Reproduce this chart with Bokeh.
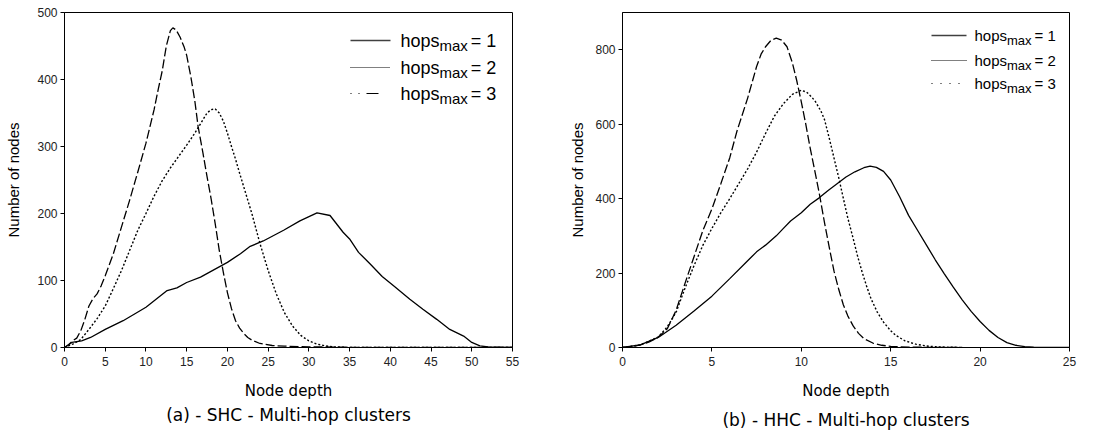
from bokeh.plotting import figure
from bokeh.models import Range1d, Label, Title, FixedTicker
from bokeh.layouts import row
from bokeh.embed import file_html
from bokeh.resources import INLINE

# ---------------- data: (a) SHC ----------------
shc_x_h1 = [0, 0.9, 2.1, 3.2, 5, 7.2, 10, 12.6, 13.8, 15, 16.7, 20, 21.6, 22.8, 24.4, 26.9, 28.9,
            31, 32.6, 34.2, 35, 36.1, 37.5, 39, 40.4, 42.4, 44, 45.7, 47.3, 49, 50, 51, 52, 55]
shc_y_h1 = [0, 7.5, 10, 15, 27, 40, 60, 85, 89, 97, 105, 127, 140, 151, 159, 175, 189,
            201, 197, 172, 162, 142, 125, 106, 92, 72, 57, 42, 27, 17, 7.5, 2.5, 1, 0]

shc_x_h2 = [0, 1, 2, 3, 4, 5, 6, 7, 8, 9, 10, 11, 12, 13, 14, 15, 16, 17, 17.5, 18, 18.5,
            19, 19.5, 20, 20.5, 21, 21.5, 22, 23, 24, 25, 26, 27, 28, 29, 30, 31, 32, 33, 35, 55]
shc_y_h2 = [0, 5, 12, 27, 43, 62, 88, 115, 145, 175, 200, 226, 249, 268, 285, 302, 320, 340,
            350, 355, 356, 350, 338, 320, 300, 281, 260, 240, 200, 155, 115, 80, 52, 32, 18,
            10, 5, 2.5, 1, 0, 0]

shc_x_h3 = [0, 0.5, 1, 1.5, 2, 2.5, 3, 3.5, 4, 4.5, 5, 6, 7, 8, 9, 10, 11, 11.5, 12, 12.5, 13,
            13.3, 13.7, 14.2, 14.7, 15, 15.5, 16, 16.4, 17, 17.5, 18, 18.5, 19, 19.5, 20, 20.5,
            21, 21.5, 22, 22.5, 23, 24, 25.5, 27, 30, 35, 55]
shc_y_h3 = [0, 4, 10, 14, 25, 42, 62, 73, 80, 92, 107, 140, 180, 220, 262, 305, 355, 385, 413,
            450, 473, 477, 474, 463, 448, 436, 405, 368, 330, 290, 255, 222, 185, 145, 112, 82,
            58, 40, 29, 21, 15, 11, 6, 3, 2, 1, 0.3, 0]

# ---------------- data: (b) HHC ----------------
hhc_x_h1 = [0, 1, 2, 3, 4, 5, 6, 7, 7.5, 8, 8.6, 9, 9.4, 10, 10.5, 11, 11.5, 12, 12.5, 13,
            13.5, 13.85, 14.2, 14.6, 15, 15.5, 16, 16.5, 17, 17.5, 18, 18.5, 19, 19.5, 20,
            20.5, 21, 21.5, 22, 22.5, 23, 24, 25]
hhc_y_h1 = [0, 7, 27, 60, 98, 138, 185, 233, 257, 275, 300, 320, 340, 362, 385, 402, 422,
            440, 458, 472, 483, 487, 484, 473, 450, 405, 355, 315, 275, 235, 198, 162, 128,
            97, 70, 46, 27, 13, 6, 2.5, 1, 0.3, 0]

hhc_x_h2 = [0, 1, 2, 2.5, 3, 3.5, 4, 4.5, 5, 5.5, 6, 6.5, 7, 7.5, 8, 8.5, 9, 9.5, 10, 10.3,
            10.6, 10.8, 11.1, 11.3, 11.55, 11.83, 12.1, 12.35, 12.6, 12.9, 13.15, 13.4, 13.65,
            13.9, 14.25, 14.6, 15, 15.3, 15.8, 16.4, 17, 17.7, 19]
hhc_y_h2 = [0, 7, 28, 55, 95, 160, 220, 275, 320, 362, 400, 440, 480, 525, 575, 622, 655,
            680, 691, 686, 672, 660, 635, 612, 565, 509, 455, 401, 348, 293, 245, 203, 165,
            131, 95, 68, 45, 32, 18, 9, 4, 1.5, 0]

hhc_x_h3 = [0, 0.5, 1, 1.5, 2, 2.5, 3, 3.5, 4, 4.5, 5, 5.5, 6, 6.4, 7, 7.5, 7.75, 8, 8.3, 8.6,
            8.9, 9.2, 9.5, 9.75, 10, 10.25, 10.5, 10.8, 11, 11.3, 11.6, 11.83, 12.1, 12.35,
            12.6, 12.9, 13.2, 13.5, 14, 14.5, 15, 16, 17, 19]
hhc_y_h3 = [0, 2, 7, 15, 28, 50, 100, 173, 244, 315, 372, 440, 510, 581, 670, 755, 788, 808,
            825, 831, 826, 808, 765, 716, 660, 600, 535, 464, 415, 335, 260, 205, 155, 115,
            85, 58, 38, 24, 12, 6, 3, 1, 0.5, 0]

series_labels = ["= 1", "= 2", "= 3"]
shc_xticks = [0, 5, 10, 15, 20, 25, 30, 35, 40, 45, 50, 55]
shc_yticks = [0, 100, 200, 300, 400, 500]
hhc_xticks = [0, 5, 10, 15, 20, 25]
hhc_yticks = [0, 200, 400, 600, 800]

curve_dash = ["solid", "2 2", "9 3"]
curve_width = [1.3, 1.4, 1.3]

TICK_FONT = "Liberation Sans"
LABEL_FONT = "DejaVu Sans"


def make_panel(xs, ys, xmax, ymax, xticks, yticks, caption, width, mb_left, mb_right,
               frame_w, ylab_size, ylab_standoff, title_standoff, legend_cfg, sample_dash):
    p = figure(width=width, height=436, output_backend="svg", toolbar_location=None,
               x_range=Range1d(0, xmax), y_range=Range1d(0, ymax),
               min_border_left=mb_left, min_border_right=mb_right,
               min_border_top=12, min_border_bottom=89)
    p.extra_x_ranges = {"lx": Range1d(0, frame_w)}
    p.extra_y_ranges = {"ly": Range1d(0, 335)}
    p.grid.visible = False
    p.background_fill_color = "white"
    p.border_fill_color = "white"
    p.outline_line_color = "black"
    p.outline_line_width = 1

    for ax in (p.xaxis, p.yaxis):
        ax.axis_line_color = "black"
        ax.major_tick_line_color = "black"
        ax.major_tick_out = 4
        ax.major_tick_in = 0
        ax.minor_tick_line_color = None
        ax.major_label_text_font = TICK_FONT
        ax.major_label_text_font_size = "12px"
        ax.major_label_text_color = "#222222"
    p.xaxis.ticker = FixedTicker(ticks=xticks)
    p.yaxis.ticker = FixedTicker(ticks=yticks)
    p.xaxis.major_label_standoff = 5
    p.yaxis.major_label_standoff = 3

    p.xaxis.axis_label = "Node depth"
    p.xaxis.axis_label_text_font = LABEL_FONT
    p.xaxis.axis_label_text_font_style = "normal"
    p.xaxis.axis_label_text_font_size = "15px"
    p.xaxis.axis_label_text_color = "black"
    p.xaxis.axis_label_standoff = 13

    p.yaxis.axis_label = "Number of nodes"
    p.yaxis.axis_label_text_font = TICK_FONT
    p.yaxis.axis_label_text_font_style = "normal"
    p.yaxis.axis_label_text_font_size = ylab_size
    p.yaxis.axis_label_text_color = "black"
    p.yaxis.axis_label_standoff = ylab_standoff

    for x, y, d, w in zip(xs, ys, curve_dash, curve_width):
        p.line(x, y, line_color="black", line_width=w, line_dash=d)

    t = Title(text=caption, align="center", text_font=LABEL_FONT, text_font_size="17px",
              text_font_style="normal", text_color="black", standoff=title_standoff)
    p.add_layout(t, "below")

    # legend (positions in frame pixels, y measured up from frame bottom)
    rows_y, sx0, sx1, tx, f_main, f_sub = legend_cfg
    fm = float(f_main.replace("px", ""))
    fs = float(f_sub.replace("px", ""))
    w_hops = 2.168 * fm
    w_max = 1.889 * fs
    for i, ry in enumerate(rows_y):
        p.segment(x0=[sx0], y0=[ry], x1=[sx1], y1=[ry], line_color="black",
                  line_width=1.2 if i else 1.5, line_dash=sample_dash[i],
                  line_alpha=0.75 if i == 0 else 1.0,
                  x_range_name="lx", y_range_name="ly")
        p.add_layout(Label(x=tx, y=ry, text="hops", x_range_name="lx", y_range_name="ly",
                           text_font=TICK_FONT, text_font_size=f_main, text_baseline="middle",
                           text_align="left", text_color="black"))
        p.add_layout(Label(x=tx + w_hops, y=ry - 5, text="max", x_range_name="lx",
                           y_range_name="ly", text_font=TICK_FONT, text_font_size=f_sub,
                           text_baseline="middle", text_align="left", text_color="black"))
        p.add_layout(Label(x=tx + w_hops + w_max + 3, y=ry, text=series_labels[i],
                           x_range_name="lx", y_range_name="ly", text_font=TICK_FONT,
                           text_font_size=f_main, text_baseline="middle", text_align="left",
                           text_color="black"))
    return p


left = make_panel([shc_x_h1, shc_x_h2, shc_x_h3], [shc_y_h1, shc_y_h2, shc_y_h3],
                  55, 500, shc_xticks, shc_yticks, "(a) - SHC - Multi-hop clusters",
                  556, 64, 44, 448, "15px", 12, 0,
                  ([307, 280, 254], 286, 326, 336, "18px", "15px"),
                  ["solid", "1 1", "1 7 1 7 12 40"])

right = make_panel([hhc_x_h1, hhc_x_h2, hhc_x_h3], [hhc_y_h1, hhc_y_h2, hhc_y_h3],
                   25, 900, hhc_xticks, hhc_yticks, "(b) - HHC - Multi-hop clusters",
                   560, 66, 47, 447, "15px", 6, 10,
                   ([312, 287, 264], 309, 344, 352, "15px", "13px"),
                   ["solid", "1 1", "1 8"])

layout = row(left, right)
open("out.html", "w").write(file_html(layout, INLINE))
